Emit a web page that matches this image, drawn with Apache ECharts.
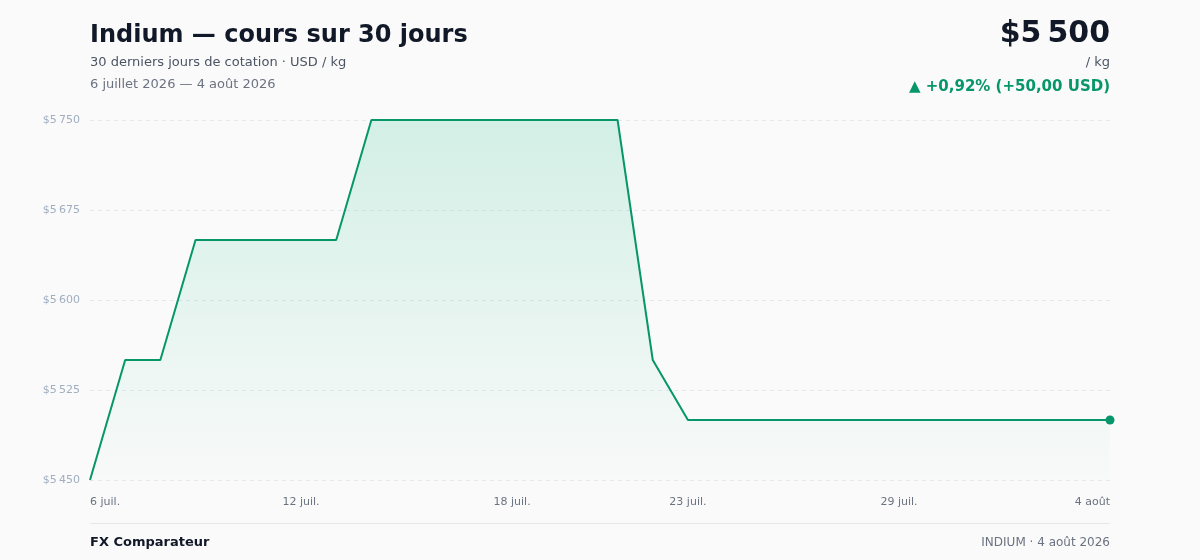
<!DOCTYPE html>
<html>
<head>
<meta charset="utf-8">
<script src="https://cdn.jsdelivr.net/npm/echarts@6/dist/echarts.min.js"></script>
<style>
html,body{margin:0;padding:0;background:#fafafa;}
#c{width:1200px;height:560px;}
</style>
</head>
<body>
<div id="c"></div>
<script>
const categories = [
  '6 juil.','7 juil.','8 juil.','9 juil.','10 juil.','11 juil.','12 juil.','13 juil.','14 juil.','15 juil.',
  '16 juil.','17 juil.','18 juil.','19 juil.','20 juil.','21 juil.','22 juil.','23 juil.','24 juil.','25 juil.',
  '26 juil.','27 juil.','28 juil.','29 juil.','30 juil.','31 juil.','1 août','2 août','3 août','4 août'
];
const prices = [
  5450, 5550, 5550, 5650, 5650, 5650, 5650, 5650, 5750, 5750,
  5750, 5750, 5750, 5750, 5750, 5750, 5550, 5500, 5500, 5500,
  5500, 5500, 5500, 5500, 5500, 5500, 5500, 5500, 5500, 5500
];
const yTicks = [5450, 5525, 5600, 5675, 5750];
const xLabelIdx = [0, 6, 12, 17, 23, 29];

const FONT = 'DejaVu Sans';
const GREEN = '#079669';
const last = prices.length - 1;
const fmtUSD = v => '$' + String(v).replace(/\B(?=(\d{3})+(?!\d))/g, '\u202f');

const chart = echarts.init(document.getElementById('c'), null, {renderer: 'canvas'});
chart.setOption({
  backgroundColor: '#fafafa',
  textStyle: {fontFamily: FONT},
  animation: false,
  title: [
    {text: 'Indium — cours sur 30 jours', left: 90, top: 24, padding: 0,
     textStyle: {fontFamily: FONT, fontSize: 24, fontWeight: 'bold', color: '#111827'}},
    {text: '30 derniers jours de cotation · USD / kg', left: 90, top: 56, padding: 0,
     textStyle: {fontFamily: FONT, fontSize: 13, fontWeight: 'normal', color: '#4b5563'}},
    {text: '6 juillet 2026 — 4 août 2026', left: 90, top: 78, padding: 0,
     textStyle: {fontFamily: FONT, fontSize: 13, fontWeight: 'normal', color: '#6b7280'}},
    {text: fmtUSD(prices[last]), right: 90, top: 19, padding: 0,
     textStyle: {fontFamily: FONT, fontSize: 30, fontWeight: 'bold', color: '#111827'}},
    {text: '/ kg', right: 90, top: 56, padding: 0,
     textStyle: {fontFamily: FONT, fontSize: 13, fontWeight: 'normal', color: '#4b5563'}},
    {text: '▲ +0,92% (+50,00 USD)', right: 90, top: 80, padding: 0,
     textStyle: {fontFamily: FONT, fontSize: 15, fontWeight: 'bold', color: GREEN}},
    {text: 'FX Comparateur', left: 90, top: 536, padding: 0,
     textStyle: {fontFamily: FONT, fontSize: 13, fontWeight: 'bold', color: '#111827'}},
    {text: 'INDIUM · 4 août 2026', right: 90, top: 537, padding: 0,
     textStyle: {fontFamily: FONT, fontSize: 12, fontWeight: 'normal', color: '#6b7280'}}
  ],
  graphic: [
    {type: 'line', shape: {x1: 90, y1: 523.5, x2: 1110, y2: 523.5},
     style: {stroke: '#e5e7eb', lineWidth: 1}}
  ],
  grid: {left: 90, right: 90, top: 120, bottom: 80, containLabel: false},
  xAxis: {
    type: 'category',
    data: categories,
    boundaryGap: false,
    axisLine: {show: false},
    axisTick: {show: false},
    splitLine: {show: false},
    axisLabel: {
      interval: (i) => xLabelIdx.includes(i),
      color: '#6b7280', fontSize: 11, fontFamily: FONT, margin: 17,
      alignMinLabel: 'left', alignMaxLabel: 'right',
      formatter: v => v
    }
  },
  yAxis: {
    type: 'value',
    min: yTicks[0],
    max: yTicks[yTicks.length - 1],
    axisLine: {show: false},
    axisTick: {show: false, customValues: yTicks},
    axisLabel: {
      customValues: yTicks,
      color: '#a0aec0', fontSize: 11, fontFamily: FONT, margin: 10,
      formatter: v => fmtUSD(v)
    },
    splitLine: {show: true, lineStyle: {color: '#e6e8eb', type: [4, 4], width: 1}}
  },
  series: [{
    type: 'line',
    data: prices,
    showSymbol: true,
    symbol: (v, p) => p.dataIndex === last ? 'circle' : 'none',
    symbolSize: 9,
    itemStyle: {color: GREEN},
    lineStyle: {color: GREEN, width: 2},
    areaStyle: {
      color: new echarts.graphic.LinearGradient(0, 0, 0, 1, [
        {offset: 0, color: 'rgba(16,185,129,0.24)'},
        {offset: 1, color: 'rgba(16,185,129,0.01)'}
      ]),
      origin: 'start'
    },
    silent: true
  }]
});
</script>
</body>
</html>
